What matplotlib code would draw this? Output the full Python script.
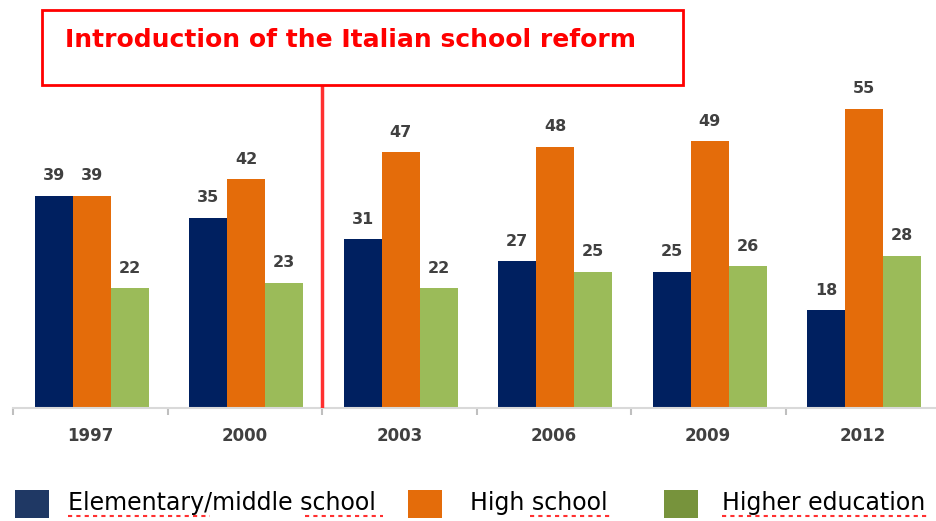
import numpy as np
import matplotlib
matplotlib.use('Agg')
from matplotlib import pyplot as plt
from matplotlib.patches import Rectangle
from matplotlib.lines import Line2D

years = ['1997', '2000', '2003', '2006', '2009', '2012']
series = ['Elementary/middle school', 'High school', 'Higher education']
elementary = [39, 35, 31, 27, 25, 18]
high_school = [39, 42, 47, 48, 49, 55]
higher_edu = [22, 23, 22, 25, 26, 28]

bar_colors = ['#002060', '#e46c0a', '#9bbb59']
legend_colors = ['#1f3864', '#e46c0a', '#77933c']

W, H = 936, 521
fig = plt.figure(figsize=(W / 100, H / 100), dpi=100)
ax = fig.add_axes([13 / W, 113 / H, 927 / W, 381 / H])

x = np.arange(len(years))
bw = 0.246
for i, vals in enumerate([elementary, high_school, higher_edu]):
    bars = ax.bar(x + (i - 1) * bw + 0.01, vals, bw, color=bar_colors[i], zorder=2)
    for b, v in zip(bars, vals):
        ax.annotate(str(v), (b.get_x() + b.get_width() / 2, v),
                    xytext=(0, 9), textcoords='offset points',
                    ha='center', va='bottom', fontsize=11.5,
                    fontweight='bold', color='#404040')

ax.set_xlim(-0.5, len(years) - 0.5)
ax.set_ylim(0, 70)
ax.set_xticks(x)
ax.set_xticklabels(years, fontsize=12, fontweight='bold', color='#404040')
ax.set_xticks(np.arange(len(years)) - 0.5, minor=True)
ax.tick_params(axis='x', which='major', length=0, pad=14)
ax.tick_params(axis='x', which='minor', length=5, color='#bfbfbf', width=1.5)
ax.set_yticks([])
for s in ['top', 'right', 'left']:
    ax.spines[s].set_visible(False)
ax.spines['bottom'].set_color('#d9d9d9')
ax.spines['bottom'].set_linewidth(1.5)

# reform marker
ax.axvline(1.5, ymin=0, ymax=(408 - 85) / 381, color='#ff3030', lw=2.5, zorder=3)
fig.add_artist(Rectangle((42 / W, 1 - 85 / H), 641 / W, 75 / H,
                         transform=fig.transFigure, facecolor='white',
                         edgecolor='#ff0000', lw=2))
fig.text(65 / W, 1 - 40 / H, 'Introduction of the Italian school reform',
         color='#ff0000', fontsize=18, fontweight='bold', va='center', ha='left')

# legend
sq_x = [15, 408, 664]
txt_x = [68, 470, 722]
for c, sx, tx, name in zip(legend_colors, sq_x, txt_x, series):
    fig.add_artist(Rectangle((sx / W, 1 - 518 / H), 34 / W, 28 / H,
                             transform=fig.transFigure, facecolor=c, edgecolor='none'))
    fig.text(tx / W, 1 - 503 / H, name, fontsize=17, va='center', ha='left', color='black')

# spell-check squiggles
for x0, x1 in [(68, 210), (305, 383), (530, 610), (722, 928)]:
    fig.add_artist(Line2D([x0 / W, x1 / W], [1 - 516 / H, 1 - 516 / H],
                          transform=fig.transFigure, color='#ff3030',
                          lw=1.5, linestyle=(0, (2, 2))))

fig.savefig('out.png', dpi=100)
